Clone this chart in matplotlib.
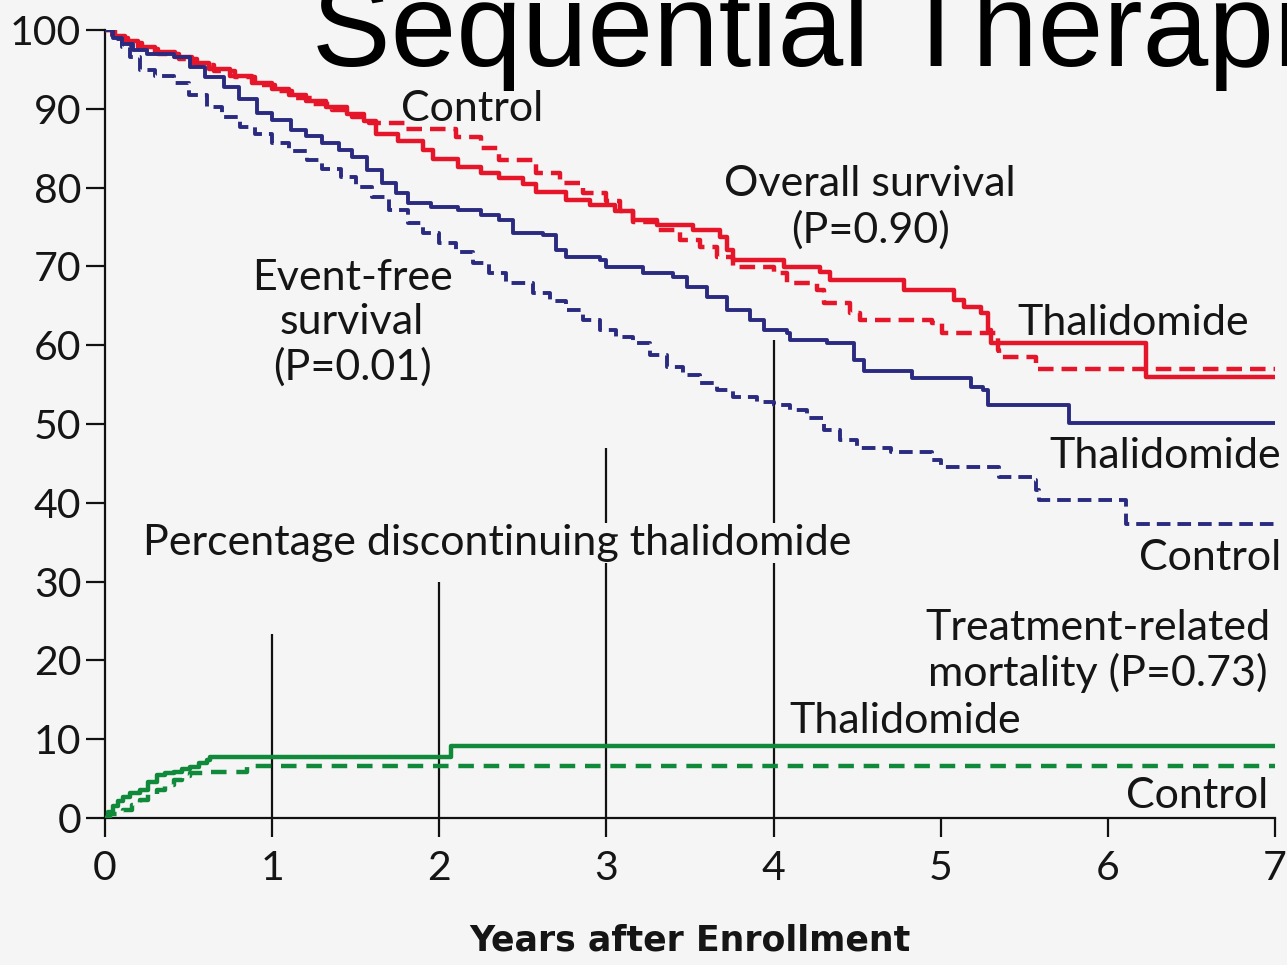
import matplotlib
matplotlib.use("Agg")
import matplotlib.pyplot as plt

# ---------------- data ----------------
x_ticks = [0, 1, 2, 3, 4, 5, 6, 7]
y_ticks = [0, 10, 20, 30, 40, 50, 60, 70, 80, 90, 100]

# Overall survival - thalidomide (red solid)
os_thal_t = [0, 0.05, 0.12, 0.2, 0.3, 0.42, 0.52, 0.62, 0.75, 0.88, 1.0, 1.1, 1.2, 1.32, 1.45,
             1.55, 1.62, 1.75, 1.9, 1.96, 2.11, 2.25, 2.36, 2.5, 2.58, 2.76, 2.9, 3.05, 3.16,
             3.3, 3.52, 3.68, 3.72, 3.76, 4.06, 4.28, 4.34, 4.78, 5.08, 5.14, 5.24, 5.28, 5.30,
             6.23, 7.0]
os_thal_s = [100, 99.3, 98.6, 97.8, 97.2, 96.6, 95.8, 95.0, 94.2, 93.3, 92.5, 91.8, 91.0, 90.2, 89.4,
             88.4, 86.8, 85.9, 84.8, 83.6, 82.6, 81.9, 81.2, 80.4, 79.5, 78.4, 77.8, 77.0, 75.9,
             75.3, 74.6, 73.7, 72.1, 70.8, 69.9, 69.3, 68.3, 67.0, 65.7, 64.8, 64.1, 61.9, 60.3,
             56.0, 56.0]

# Overall survival - control (red dashed)
os_ctrl_t = [0, 0.06, 0.14, 0.22, 0.32, 0.44, 0.55, 0.65, 0.78, 0.9, 1.02, 1.12, 1.24, 1.36, 1.48,
             1.58, 1.8, 2.1, 2.25, 2.36, 2.58, 2.72, 2.86, 3.0, 3.08, 3.16, 3.3, 3.44, 3.56, 3.66,
             3.76, 4.0, 4.08, 4.26, 4.30, 4.46, 4.52, 4.95, 5.01, 5.34, 5.35, 5.57, 7.0]
os_ctrl_s = [100, 99.0, 98.3, 97.6, 97.0, 96.3, 95.6, 94.8, 94.0, 93.0, 92.2, 91.4, 90.6, 89.8, 89.0,
             88.2, 87.5, 86.4, 85.0, 83.5, 81.9, 80.6, 79.3, 78.3, 77.0, 75.6, 74.6, 73.4, 72.5, 71.2,
             69.9, 69.2, 67.9, 67.0, 65.4, 64.1, 63.2, 62.8, 61.5, 59.4, 58.5, 57.0, 57.0]

# Event-free survival - thalidomide (blue solid)
efs_thal_t = [0, 0.05, 0.1, 0.17, 0.25, 0.41, 0.51, 0.6, 0.71, 0.8, 0.91, 1.0, 1.11, 1.2, 1.30,
              1.4, 1.48, 1.57, 1.66, 1.74, 1.81, 1.95, 2.11, 2.25, 2.36, 2.44, 2.62, 2.7, 2.76,
              2.96, 3.0, 3.22, 3.40, 3.48, 3.6, 3.72, 3.86, 3.94, 4.08, 4.1, 4.32, 4.48, 4.54,
              4.83, 5.18, 5.25, 5.28, 5.77, 7.0]
efs_thal_s = [100, 99.0, 98.2, 97.5, 97.0, 96.6, 95.3, 94.0, 92.8, 91.2, 89.5, 88.6, 87.3, 86.6, 85.7,
              84.8, 83.9, 82.2, 80.6, 79.3, 78.0, 77.6, 77.2, 76.5, 75.9, 74.2, 74.0, 72.1, 71.2,
              70.8, 69.9, 69.2, 68.7, 67.4, 66.1, 64.5, 63.2, 61.9, 61.5, 60.7, 60.3, 58.1, 56.7,
              55.8, 54.7, 54.3, 52.4, 50.1, 50.1]

# Event-free survival - control (blue dashed)
efs_ctrl_t = [0, 0.04, 0.1, 0.15, 0.21, 0.3, 0.41, 0.5, 0.61, 0.7, 0.81, 0.9, 1.0, 1.1, 1.21, 1.3,
              1.41, 1.5, 1.6, 1.7, 1.81, 1.9, 2.0, 2.1, 2.2, 2.3, 2.4, 2.56, 2.66, 2.76, 2.86, 2.96,
              3.06, 3.16, 3.26, 3.36, 3.46, 3.56, 3.66, 3.76, 3.9, 4.0, 4.1, 4.2, 4.3, 4.4, 4.5,
              4.7, 4.95, 5.0, 5.35, 5.55, 5.57, 5.59, 6.11, 7.0]
efs_ctrl_s = [100, 98.8, 97.8, 96.6, 94.9, 94.2, 93.3, 91.8, 90.2, 89.0, 87.7, 86.8, 85.7, 84.6, 83.5,
              82.4, 81.3, 80.1, 78.8, 77.2, 75.5, 74.2, 73.0, 71.8, 70.4, 69.2, 67.9, 66.6, 65.6,
              64.5, 63.2, 61.9, 61.0, 60.3, 58.8, 57.2, 56.2, 55.2, 54.3, 53.4, 52.8, 52.4, 51.8,
              50.8, 49.2, 48.0, 47.0, 46.4, 45.4, 44.5, 43.3, 42.9, 41.6, 40.4, 37.3, 37.2]

# Treatment-related mortality - thalidomide (green solid)
trm_thal_t = [0, 0.02, 0.05, 0.08, 0.11, 0.15, 0.21, 0.26, 0.31, 0.36, 0.41, 0.46, 0.51, 0.56,
              0.61, 0.63, 2.07, 7.0]
trm_thal_s = [0, 0.8, 1.5, 2.1, 2.7, 3.2, 3.6, 4.6, 5.5, 5.7, 5.8, 6.2, 6.5, 7.0, 7.4, 7.8, 9.1, 9.1]

# Treatment-related mortality - control (green dashed)
trm_ctrl_t = [0, 0.03, 0.07, 0.11, 0.16, 0.21, 0.26, 0.31, 0.36, 0.41, 0.46, 0.51, 0.61, 0.85, 7.0]
trm_ctrl_s = [0, 0.5, 0.8, 1.0, 1.7, 2.3, 3.0, 3.6, 4.2, 4.8, 5.3, 5.7, 5.8, 6.6, 6.6]

# Percentage discontinuing thalidomide (vertical bars)
disc_years = [1, 2, 3, 4]
disc_pct = [23.3, 30.0, 47.0, 60.7]

# ---------------- styling ----------------
BG = "#f5f5f5"
RED = "#e5162a"
BLUE = "#2a2a80"
GREEN = "#108a3a"
TXT = "#151515"
FONT = ["Lato", "DejaVu Sans"]

plt.rcParams["font.family"] = FONT

fig = plt.figure(figsize=(12.87, 9.65), dpi=100, facecolor=BG)
ax = fig.add_axes([105 / 1287, 1 - 818 / 965, 1170 / 1287, 788 / 965])
ax.set_facecolor(BG)

ax.plot(os_ctrl_t, os_ctrl_s, drawstyle="steps-post", color=RED, lw=3.2,
        dashes=(3.5, 1.8), zorder=3)
ax.plot(os_thal_t, os_thal_s, drawstyle="steps-post", color=RED, lw=3.2, zorder=4)
ax.plot(efs_ctrl_t, efs_ctrl_s, drawstyle="steps-post", color=BLUE, lw=2.8,
        dashes=(3.5, 1.8), zorder=3)
ax.plot(efs_thal_t, efs_thal_s, drawstyle="steps-post", color=BLUE, lw=2.8, zorder=4)
ax.plot(trm_ctrl_t, trm_ctrl_s, drawstyle="steps-post", color=GREEN, lw=3.2,
        dashes=(3.5, 2.2), zorder=3)
ax.plot(trm_thal_t, trm_thal_s, drawstyle="steps-post", color=GREEN, lw=3.2, zorder=4)

ax.vlines(disc_years, 0, disc_pct, color="#111111", lw=1.6, zorder=2)

ax.set_xlim(0, 7)
ax.set_ylim(0, 100)
ax.set_xticks(x_ticks)
ax.set_yticks(y_ticks)
ax.set_xticklabels([str(v) for v in x_ticks])
ax.set_yticklabels([str(v) for v in y_ticks])
for s in ["top", "right"]:
    ax.spines[s].set_visible(False)
for s in ["left", "bottom"]:
    ax.spines[s].set_linewidth(1.6)
    ax.spines[s].set_color("#111111")
ax.tick_params(axis="y", direction="out", length=14, width=1.6, pad=3,
               labelsize=29.5, colors="#111111", labelcolor=TXT)
ax.tick_params(axis="x", direction="out", length=14, width=1.6, pad=9,
               labelsize=29.5, colors="#111111", labelcolor=TXT)
ax.set_xlabel("Years after Enrollment", fontsize=25, fontweight="bold",
              family=["DejaVu Sans"], color=TXT, labelpad=26)

fs = 31
ls = 1.2
dy = -0.4
ax.text(2.196, 90.0, "Control", fontsize=fs, color=TXT, ha="center", va="center")
ax.text(4.577, 77.9 + dy, "Overall survival\n(P=0.90)", fontsize=fs, color=TXT,
        ha="center", va="center", linespacing=ls)
ax.text(6.151, 63.2 + dy, "Thalidomide", fontsize=fs, color=TXT, ha="center", va="center")
ax.text(1.478, 63.2 + dy, "Event-free\nsurvival\n(P=0.01)", fontsize=fs, color=TXT,
        ha="center", va="center", linespacing=ls)
ax.text(6.342, 46.4 + dy, "Thalidomide", fontsize=fs, color=TXT, ha="center", va="center")
ax.text(6.611, 33.4 + dy, "Control", fontsize=fs, color=TXT, ha="center", va="center")
ax.text(2.345, 35.3 + dy, "Percentage discontinuing thalidomide", fontsize=fs, color=TXT,
        ha="center", va="center", zorder=5,
        bbox=dict(facecolor=BG, edgecolor="none", pad=1))
ax.text(5.941, 21.6 + dy, "Treatment-related\nmortality (P=0.73)", fontsize=fs, color=TXT,
        ha="center", va="center", linespacing=ls)
ax.text(4.786, 12.7 + dy, "Thalidomide", fontsize=fs, color=TXT, ha="center", va="center")
ax.text(6.533, 3.2 + dy, "Control", fontsize=fs, color=TXT, ha="center", va="center")

fig.text(312 / 1287, 1 - 66 / 965, "Sequential Therapies", fontsize=85,
         family=["Liberation Sans", "DejaVu Sans"], color="black",
         ha="left", va="baseline")

fig.savefig("out.png", dpi=100, facecolor=BG)
